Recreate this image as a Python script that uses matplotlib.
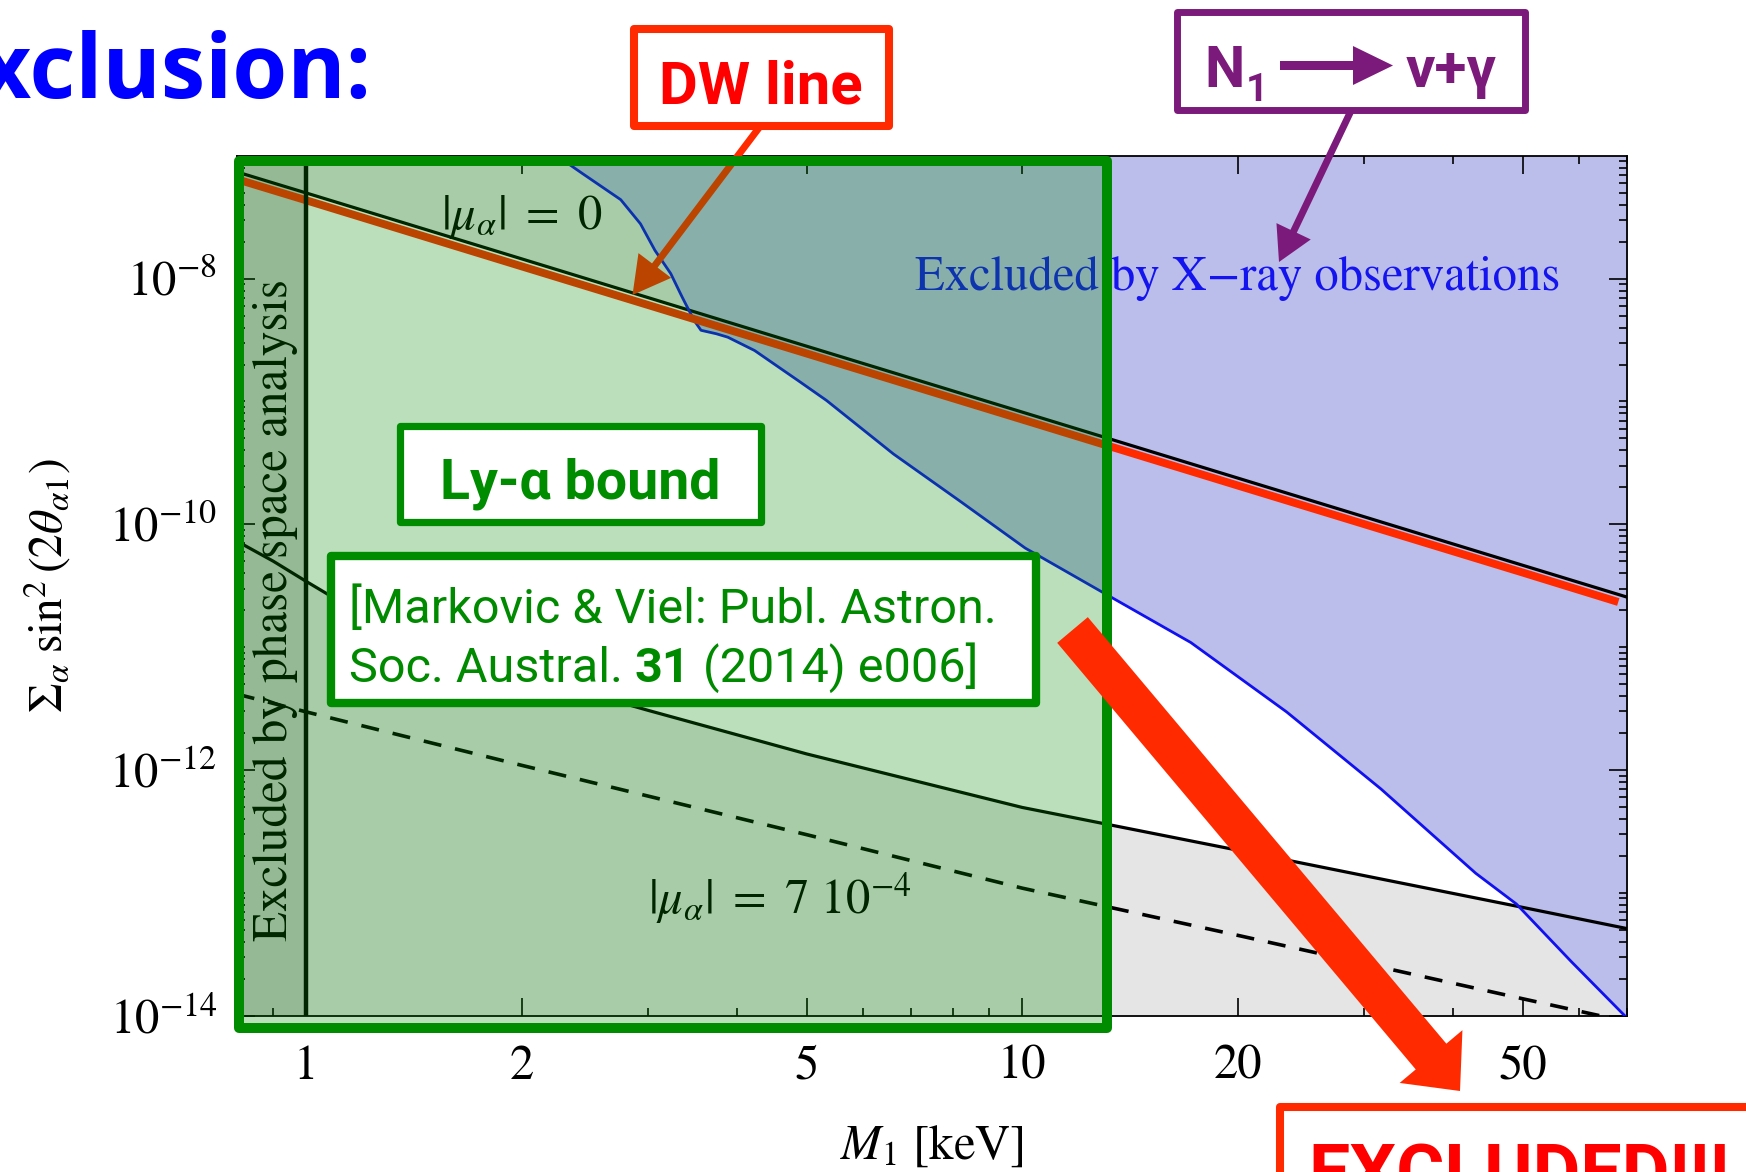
import matplotlib
matplotlib.use('Agg')
import matplotlib.pyplot as plt
from matplotlib.patches import Rectangle, FancyArrow
from matplotlib.transforms import Affine2D
from matplotlib.ticker import FixedLocator, FixedFormatter, NullFormatter

plt.rcParams['font.family'] = ['STIXGeneral', 'DejaVu Sans']
plt.rcParams['mathtext.fontset'] = 'stix'

# ---------------- data ----------------
# |mu_alpha| = 0 line (upper solid black)
mu0_mass = [0.8, 1, 2, 5, 10, 20, 50, 70]
mu0_mix = [7.41e-8, 4.99e-8, 1.45e-8, 2.82e-9, 8.2e-10, 2.38e-10, 4.64e-11, 2.55e-11]

# DW line (red)
dw_mass = [0.8, 1, 2, 5, 10, 20, 50, 68]
dw_mix = [6.46e-8, 4.35e-8, 1.26e-8, 2.46e-9, 7.14e-10, 2.07e-10, 4.05e-11, 2.33e-11]

# lower solid black line
low_mass = [0.8, 0.9, 1, 1.2, 1.5, 2, 3, 5, 10, 20, 30, 50, 70]
low_mix = [7.3e-11, 5.0e-11, 3.43e-11, 1.82e-11, 1.08e-11, 6.0e-12, 3.06e-12,
           1.35e-12, 4.95e-13, 2.22e-13, 1.38e-13, 7.6e-14, 5.1e-14]

# |mu_alpha| = 7e-4 (dashed)
mu7_mass = [0.8, 1, 2, 5, 10, 20, 50, 66]
mu7_mix = [4.15e-12, 2.97e-12, 1.09e-12, 2.97e-13, 1.09e-13, 4.5e-14, 1.37e-14, 9.6e-15]

# X-ray bound (blue)
xray_mass = [2.24, 2.43, 2.75, 2.93, 3.07, 3.23, 3.35, 3.48, 3.56, 3.74, 3.88, 4.23,
             4.89, 5.33, 6.61, 8.18, 10.1, 13.0, 17.2, 23.4, 31.7, 43.0, 49.0, 58.5, 70.0]
xray_mix = [1.0e-7, 7.2e-8, 4.4e-8, 2.8e-8, 1.7e-8, 1.1e-8, 7.1e-9, 4.6e-9, 3.8e-9,
            3.56e-9, 3.34e-9, 2.6e-9, 1.45e-9, 1.02e-9, 3.74e-10, 1.55e-10, 6.4e-11,
            2.76e-11, 1.09e-11, 2.97e-12, 7.0e-13, 1.44e-13, 8.1e-14, 2.74e-14, 9.5e-15]

phase_space_mass = 1.0

x_ticks = [1, 2, 5, 10, 20, 50]
x_ticklabels = ['1', '2', '5', '10', '20', '50']
x_minor = [0.9, 3, 4, 6, 7, 8, 9, 30, 40, 60, 70]
y_ticks = [1e-14, 1e-12, 1e-10, 1e-8]
y_ticklabels = [r'$10^{-14}$', r'$10^{-12}$', r'$10^{-10}$', r'$10^{-8}$']
y_minor = [k * 10.0 ** e for e in range(-14, -7) for k in range(1, 10)
           if not (k == 1 and e % 2 == 0)]

W, H = 1746, 1172
fig = plt.figure(figsize=(W / 100, H / 100), dpi=100)
pix = Affine2D().scale(1 / W, -1 / H).translate(0, 1) + fig.transFigure

ax = fig.add_axes([0.1356, 0.1335, 0.7964, 0.7335])
ax.set_xscale('log')
ax.set_yscale('log')
ax.set_xlim(0.8, 70)
ax.set_ylim(1e-14, 1e-7)

GRAY = '#E5E5E5'
ax.fill_between(mu0_mass, mu0_mix, 1e-5, color=GRAY, lw=0, zorder=1)
ax.fill_between(low_mass, 1e-16, low_mix, color=GRAY, lw=0, zorder=1)
ax.fill_between(xray_mass, xray_mix, 1e-5, color='#BBBDEA', lw=0, zorder=1.2)
ax.axvspan(0.8, phase_space_mass, color='#CBCBCB', lw=0, zorder=1.4)

ax.plot(mu0_mass, mu0_mix, color='black', lw=2.3, zorder=3)
ax.plot(dw_mass, dw_mix, color='#FF2A00', lw=5.7, solid_capstyle='butt', zorder=3.2)
ax.plot(low_mass, low_mix, color='black', lw=2.3, zorder=3)
ax.plot(mu7_mass, mu7_mix, color='black', lw=2.6, ls=(0, (5.0, 3.9)), zorder=3)
ax.plot(xray_mass, xray_mix, color='#1010F0', lw=2.0, zorder=3)
ax.axvline(phase_space_mass, color='black', lw=3.2, zorder=3.5)

ax.text(2.0, 3.2e-8, r'$|\mu_\alpha|\ =\ 0$', fontsize=35, ha='center', va='center', zorder=4)
ax.text(4.58, 9.0e-14, r'$|\mu_\alpha|\ =\ 7\ 10^{-4}$', fontsize=35, ha='center', va='center', zorder=4)
ax.text(20, 1e-8, 'Excluded by X\u2212ray observations', fontsize=35, color='#1414EE',
        ha='center', va='center', zorder=4)
ax.text(0.905, 2e-11, 'Excluded by phase space analysis', fontsize=35.3, rotation=90,
        ha='center', va='center', zorder=4)

ax.xaxis.set_major_locator(FixedLocator(x_ticks))
ax.xaxis.set_major_formatter(FixedFormatter(x_ticklabels))
ax.xaxis.set_minor_locator(FixedLocator(x_minor))
ax.xaxis.set_minor_formatter(NullFormatter())
ax.yaxis.set_major_locator(FixedLocator(y_ticks))
ax.yaxis.set_major_formatter(FixedFormatter(y_ticklabels))
ax.yaxis.set_minor_locator(FixedLocator(y_minor))
ax.yaxis.set_minor_formatter(NullFormatter())
ax.tick_params(which='both', direction='in', top=True, right=True, width=1.2, colors='black')
ax.tick_params(which='major', length=13, labelsize=35)
ax.tick_params(which='minor', length=6)
ax.tick_params(axis='x', which='major', pad=21)
ax.tick_params(axis='y', which='major', pad=14)
for sp in ax.spines.values():
    sp.set_linewidth(1.3)

ax.set_xlabel(r'$M_1$ [keV]', fontsize=35)
ax.set_ylabel(r'$\Sigma_\alpha\;\sin^2(2\theta_{\alpha 1})$', fontsize=34)
ax.xaxis.set_label_coords(0.5, -0.153)
ax.xaxis.label.set_va('center')
ax.yaxis.set_label_coords(-0.1365, 0.5)
ax.yaxis.label.set_va('center')

SANS = ['Roboto', 'DejaVu Sans']
RED = '#FF2A00'
GREEN = '#008C00'
PURPLE = '#7B1A7A'

# DW arrow (beneath the green overlay)
fig.add_artist(FancyArrow(760.5, 125.8, 632.5 - 760.5, 295 - 125.8, width=7, head_width=41,
                          head_length=37, length_includes_head=True, color=RED, lw=0,
                          transform=pix, zorder=1))

# green Ly-alpha overlay
fig.add_artist(Rectangle((239, 161), 1107 - 239, 1028 - 161, transform=pix,
                         facecolor=(0, 0.55, 0, 0.27), edgecolor=GREEN, lw=7.2,
                         joinstyle='round', zorder=2))

# title fragment
fig.text(371, 98, 'Exclusion:', transform=pix, ha='right', va='baseline', fontsize=64,
         fontweight='bold', family=['Open Sans', 'DejaVu Sans'], color='#0000FF', zorder=5)

# DW line box
fig.add_artist(Rectangle((633.5, 29), 888.5 - 633.5, 125.5 - 29, transform=pix,
                         facecolor='white', edgecolor=RED, lw=5.8, joinstyle='round', zorder=3))
fig.text(760.7, 103, 'DW line', transform=pix, ha='center', va='baseline', fontsize=43,
         fontweight='bold', family=SANS, color='#FF0000', zorder=5)

# N1 -> nu + gamma box
fig.add_artist(Rectangle((1177, 12), 1525 - 1177, 110 - 12, transform=pix,
                         facecolor='white', edgecolor=PURPLE, lw=5, joinstyle='round', zorder=3))
fig.text(1204, 87, 'N', transform=pix, ha='left', va='baseline', fontsize=41,
         fontweight='bold', family=SANS, color=PURPLE, zorder=5)
fig.text(1246, 101, '1', transform=pix, ha='left', va='baseline', fontsize=28,
         fontweight='bold', family=SANS, color=PURPLE, zorder=5)
fig.add_artist(FancyArrow(1280, 65.5, 1393 - 1280, 0, width=9, head_width=39, head_length=40,
                          length_includes_head=True, color=PURPLE, lw=0, transform=pix, zorder=5))
fig.text(1406, 87, '\u03bd+\u03b3', transform=pix, ha='left', va='baseline', fontsize=42,
         fontweight='bold', family=SANS, color=PURPLE, zorder=5)
fig.add_artist(FancyArrow(1350.7, 111.4, 1279 - 1350.7, 262 - 111.4, width=7, head_width=38,
                          head_length=34, length_includes_head=True, color=PURPLE, lw=0,
                          transform=pix, zorder=5))

# Ly-alpha bound box
fig.add_artist(Rectangle((400, 425.5), 761 - 400, 521.5 - 425.5, transform=pix,
                         facecolor='white', edgecolor=GREEN, lw=5.2, joinstyle='round', zorder=3))
fig.text(580.5, 499, 'Ly-\u03b1 bound', transform=pix, ha='center', va='baseline', fontsize=40,
         fontweight='bold', family=SANS, color=GREEN, zorder=5)

# Markovic & Viel reference box
fig.add_artist(Rectangle((331, 555.5), 1036 - 331, 703 - 555.5, transform=pix,
                         facecolor='white', edgecolor=GREEN, lw=6, joinstyle='round', zorder=3))
TXT_GREEN = '#008A00'
FS = 35
fig.text(349, 623, '[Markovic & Viel: Publ. Astron.', transform=pix, ha='left', va='baseline',
         fontsize=FS, family=SANS, color=TXT_GREEN, zorder=5)
renderer = fig.canvas.get_renderer()
t_a = fig.text(349, 682, 'Soc. Austral.', transform=pix, ha='left', va='baseline',
               fontsize=FS, family=SANS, color=TXT_GREEN, zorder=5)
probe1 = fig.text(0, 0, 'x x', fontsize=FS, family=SANS)
probe2 = fig.text(0, 0, 'xx', fontsize=FS, family=SANS)
space = probe1.get_window_extent(renderer).width - probe2.get_window_extent(renderer).width
probe1.remove()
probe2.remove()
xa = t_a.get_window_extent(renderer).x1 + space
t_b = fig.text(xa, 682, '31', transform=pix, ha='left', va='baseline', fontsize=FS,
               fontweight='bold', family=SANS, color=TXT_GREEN, zorder=5)
xb = t_b.get_window_extent(renderer).x1 + space
fig.text(xb, 682, '(2014) e006]', transform=pix, ha='left', va='baseline', fontsize=FS,
         family=SANS, color=TXT_GREEN, zorder=5)

# big red arrow
fig.add_artist(FancyArrow(1072.5, 630, 1460 - 1072.5, 1091 - 630, width=40, head_width=82,
                          head_length=45, length_includes_head=True, color=RED, lw=0,
                          transform=pix, zorder=6))

# EXCLUDED!!! box (cut by the figure edge, as in the original slide)
fig.add_artist(Rectangle((1279.5, 1107), 600, 200, transform=pix, facecolor='white',
                         edgecolor=RED, lw=5.8, joinstyle='round', zorder=3))
fig.text(1308, 1198, 'EXCLUDED!!!', transform=pix, ha='left', va='baseline', fontsize=53,
         fontweight='bold', family=SANS, color='#FF0000', zorder=5)

fig.savefig('out.png', dpi=100)
